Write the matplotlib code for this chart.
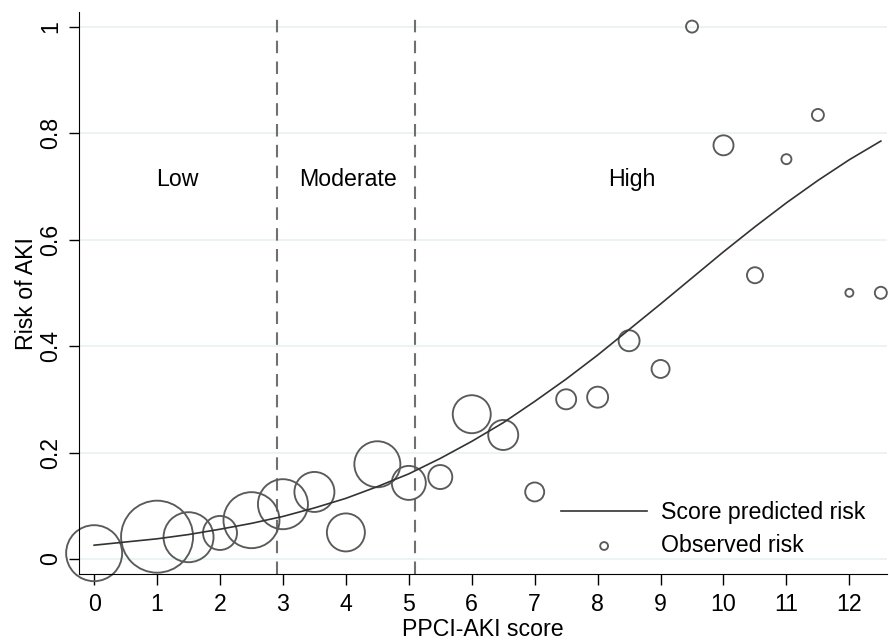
import matplotlib.pyplot as plt
import numpy as np

plt.rcParams['font.family'] = ['Liberation Sans', 'DejaVu Sans']

# observed risk by PPCI-AKI score (bubble size ~ weight)
score = [0, 1, 1.5, 2, 2.5, 3, 3.5, 4, 4.5, 5, 5.5, 6, 6.5, 7, 7.5, 8, 8.5, 9,
         9.5, 10, 10.5, 11, 11.5, 12, 12.5]
observed = [0.011, 0.042, 0.041, 0.049, 0.073, 0.103, 0.126, 0.050, 0.178, 0.143,
            0.154, 0.272, 0.233, 0.126, 0.300, 0.304, 0.410, 0.357,
            1.000, 0.777, 0.533, 0.751, 0.834, 0.500, 0.500]
weight = [784, 1296, 625, 289, 784, 625, 400, 361, 529, 289, 144, 361, 225, 90,
          100, 110, 110, 81, 36, 100, 64, 25, 36, 16, 36]

# predicted risk curve
curve_x = [0, 0.5, 1, 1.5, 2, 2.5, 3, 3.5, 4, 4.5, 5, 5.5, 6, 6.5, 7, 7.5, 8,
           8.5, 9, 9.5, 10, 10.5, 11, 11.5, 12, 12.5]
curve_y = [0.026, 0.032, 0.038, 0.046, 0.056, 0.067, 0.080, 0.096, 0.114, 0.136,
           0.160, 0.189, 0.221, 0.256, 0.296, 0.338, 0.383, 0.431, 0.479, 0.528,
           0.577, 0.624, 0.669, 0.711, 0.750, 0.785]

cutoffs = [2.9, 5.1]
groups = ['Low', 'Moderate', 'High']
group_x = [1.32, 4.04, 8.54]
xticks = list(range(0, 13))
yticks = [0, 0.2, 0.4, 0.6, 0.8, 1]

FS = 16.7

fig = plt.figure(figsize=(8.89, 6.42), dpi=100)
ax = fig.add_axes([0.0889, 0.106, 0.909, 0.875])

for v in yticks:
    ax.axhline(v, color='#eaf2f3', lw=1.3, zorder=0)

for c in cutoffs:
    ax.axvline(c, color='#707070', lw=1.5, ls=(0, (6, 4)), zorder=1)

# bubble diameter in points from weight (radius px ~ sqrt(weight))
sizes = [(2 * np.sqrt(w) * 0.72) ** 2 for w in weight]
ax.scatter(score, observed, s=sizes, facecolors='none', edgecolors='#5a5a5a',
           linewidths=1.35, zorder=2, label='Observed risk', clip_on=False)
ax.plot(curve_x, curve_y, color='#333333', lw=1.2, zorder=3,
        label='Score predicted risk')

for g, gx in zip(groups, group_x):
    ax.text(gx, 0.712, g, ha='center', va='center', fontsize=FS)

ax.set_xlim(-0.24, 12.6)
ax.set_ylim(-0.028, 1.027)
ax.set_xticks(xticks)
ax.set_yticks(yticks)
ax.set_yticklabels(['0', '0.2', '0.4', '0.6', '0.8', '1'], rotation=90, va='center')
ax.tick_params(axis='x', labelsize=FS, length=8, width=1, pad=6)
ax.tick_params(axis='y', labelsize=FS, length=7, width=1, pad=5)
ax.spines['top'].set_visible(False)
ax.spines['right'].set_visible(False)
ax.set_xlabel('PPCI-AKI score', fontsize=FS, labelpad=1)
ax.set_ylabel('Risk of AKI', fontsize=FS, labelpad=1)

h, l = ax.get_legend_handles_labels()
leg = ax.legend([h[1], h[0]], [l[1], l[0]], loc='lower right', frameon=False,
                fontsize=FS, handlelength=3.7, handletextpad=0.6,
                labelspacing=0.45, borderpad=0, borderaxespad=0,
                bbox_to_anchor=(0.973, 0.03), markerscale=1)
leg.legend_handles[1].set_sizes([32])

fig.savefig('out.png', dpi=100)
